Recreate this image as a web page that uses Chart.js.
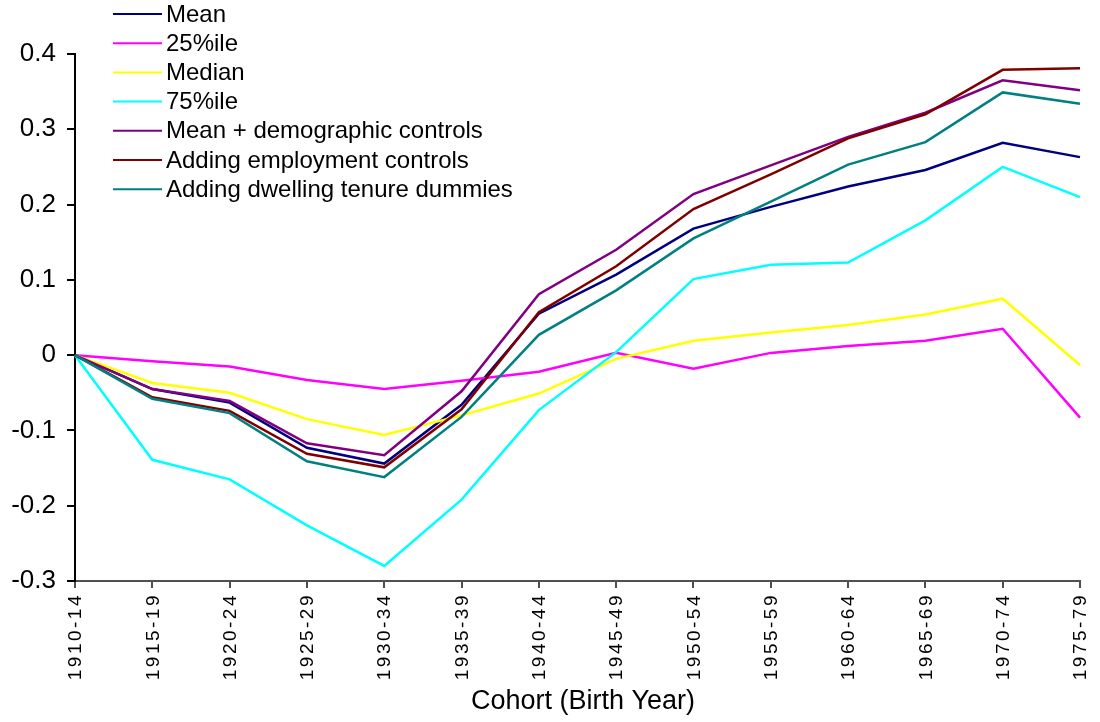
<!DOCTYPE html>
<html>
<head>
<meta charset="utf-8">
<title>Cohort effects</title>
<script src="https://cdn.jsdelivr.net/npm/chart.js@4/dist/chart.umd.min.js"></script>
<style>
    html, body { margin: 0; padding: 0; background: #ffffff; }
    #wrap { width: 1100px; height: 722px; position: relative; }
</style>
</head>
<body>
<div id="wrap"><canvas id="cohortChart"></canvas></div>
<script>
// ============================================
// COHORT CHART - data
// ============================================

const cohorts = ['1910-14', '1915-19', '1920-24', '1925-29', '1930-34', '1935-39', '1940-44',
                 '1945-49', '1950-54', '1955-59', '1960-64', '1965-69', '1970-74', '1975-79'];

const meanVals   = [0, -0.045, -0.063, -0.123, -0.144, -0.066, 0.055, 0.107, 0.168, 0.197, 0.224, 0.246, 0.282, 0.263];
const p25Vals    = [0, -0.008, -0.015, -0.033, -0.045, -0.034, -0.022, 0.003, -0.018, 0.003, 0.012, 0.019, 0.035, -0.083];
const medianVals = [0, -0.037, -0.050, -0.085, -0.106, -0.080, -0.051, -0.005, 0.019, 0.030, 0.040, 0.054, 0.075, -0.013];
const p75Vals    = [0, -0.139, -0.165, -0.226, -0.280, -0.192, -0.073, 0.004, 0.101, 0.120, 0.123, 0.179, 0.250, 0.210];
const demoVals   = [0, -0.045, -0.061, -0.117, -0.133, -0.048, 0.081, 0.140, 0.214, 0.252, 0.290, 0.322, 0.365, 0.352];
const emplVals   = [0, -0.056, -0.074, -0.131, -0.149, -0.072, 0.057, 0.118, 0.194, 0.240, 0.288, 0.320, 0.379, 0.381];
const tenureVals = [0, -0.058, -0.077, -0.141, -0.162, -0.082, 0.027, 0.086, 0.155, 0.204, 0.253, 0.283, 0.349, 0.334];

const seriesNames  = ['Mean', '25%ile', 'Median', '75%ile', 'Mean + demographic controls',
                      'Adding employment controls', 'Adding dwelling tenure dummies'];
const seriesValues = [meanVals, p25Vals, medianVals, p75Vals, demoVals, emplVals, tenureVals];
const seriesColors = ['#000080', '#ff00ff', '#ffff00', '#00ffff', '#800080', '#800000', '#008080'];

const yMin = -0.3;
const yMax = 0.4;
const yStep = 0.1;

const FONT = "'Liberation Sans', Arial, sans-serif";

// ============================================
// Plugins: vertical legend + spaced category labels
// ============================================

const legendPlugin = {
    id: 'sideLegend',
    afterDraw(chart) {
        const ctx = chart.ctx;
        ctx.save();
        ctx.font = '24px ' + FONT;
        ctx.textBaseline = 'middle';
        ctx.textAlign = 'left';
        chart.data.datasets.forEach((ds, i) => {
            const y = 14 + i * 29.2;
            ctx.strokeStyle = ds.borderColor;
            ctx.lineWidth = 2;
            ctx.beginPath();
            ctx.moveTo(113, y);
            ctx.lineTo(162, y);
            ctx.stroke();
            ctx.fillStyle = '#000000';
            ctx.fillText(ds.label, 166, y + 1);
        });
        ctx.restore();
    }
};

const xLabelPlugin = {
    id: 'xLabels',
    afterDraw(chart) {
        const ctx = chart.ctx;
        const xs = chart.scales.x;
        ctx.save();
        ctx.font = '19px ' + FONT;
        ctx.fillStyle = '#000000';
        ctx.textAlign = 'right';
        ctx.textBaseline = 'middle';
        if ('letterSpacing' in ctx) ctx.letterSpacing = '2.5px';
        cohorts.forEach((label, i) => {
            const x = xs.getPixelForTick(i);
            ctx.save();
            ctx.translate(x + 1, 593);
            ctx.rotate(-Math.PI / 2);
            ctx.fillText(label, 0, 0);
            ctx.restore();
        });
        ctx.restore();
    }
};

// x-axis title, nudged a little right of the plot centre as in the original
const titlePlugin = {
    id: 'xTitle',
    afterDraw(chart) {
        const ctx = chart.ctx;
        ctx.save();
        ctx.font = '27px ' + FONT;
        ctx.fillStyle = '#000000';
        ctx.textAlign = 'center';
        ctx.textBaseline = 'middle';
        ctx.fillText('Cohort (Birth Year)', 583, 702);
        ctx.restore();
    }
};

// ============================================
// Chart
// ============================================

const datasets = seriesNames.map((name, i) => ({
    label: name,
    data: seriesValues[i],
    borderColor: seriesColors[i],
    backgroundColor: seriesColors[i],
    borderWidth: 2.5,
    pointRadius: 0,
    tension: 0,
    fill: false,
    order: seriesNames.length - i // later series on top, like the original
}));

new Chart(document.getElementById('cohortChart'), {
    type: 'line',
    data: { labels: cohorts, datasets: datasets },
    options: {
        responsive: true,
        maintainAspectRatio: false,
        animation: false,
        layout: { padding: { top: 54, right: 20, left: 0, bottom: 0 } },
        plugins: {
            legend: { display: false },
            tooltip: { enabled: false }
        },
        scales: {
            x: {
                offset: false,
                border: { display: true, color: '#505050', width: 2 },
                grid: {
                    drawOnChartArea: false,
                    drawTicks: true,
                    tickLength: 7,
                    color: '#505050',
                    lineWidth: 2
                },
                ticks: { display: false },
                afterFit(scale) { scale.height = 141; }
            },
            y: {
                min: yMin,
                max: yMax,
                border: { display: true, color: '#000000', width: 2 },
                grid: {
                    drawOnChartArea: false,
                    drawTicks: true,
                    tickLength: 8,
                    color: '#000000',
                    lineWidth: 2
                },
                ticks: {
                    stepSize: yStep,
                    color: '#000000',
                    padding: 11,
                    font: { family: FONT, size: 26 }
                },
                afterFit(scale) { scale.width = 75; }
            }
        }
    },
    plugins: [legendPlugin, xLabelPlugin, titlePlugin]
});
</script>
</body>
</html>
